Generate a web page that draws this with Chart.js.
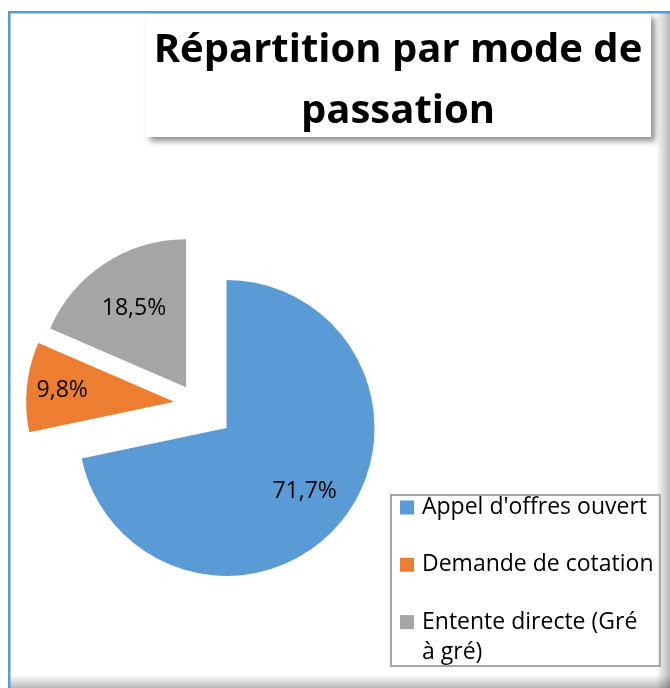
<!DOCTYPE html>
<html lang="fr">
<head>
<meta charset="utf-8">
<title>Répartition par mode de passation</title>
<script src="https://cdn.jsdelivr.net/npm/chart.js@4/dist/chart.umd.min.js"></script>
<style>
  html, body { margin: 0; padding: 0; background: #fff; }
  #wrap { position: relative; width: 670px; height: 688px; }
</style>
</head>
<body>
<div id="wrap"><canvas id="chart"></canvas></div>
<script>
const titleLines = ['Répartition par mode de', 'passation'];
const categories = ["Appel d'offres ouvert", 'Demande de cotation', 'Entente directe (Gré à gré)'];
const shares = [71.7, 9.8, 18.5];
const colors = ['#5b9bd5', '#ed7d31', '#a5a5a5'];
// how far each slice is pulled out of the pie (px)
const explode = [38, 23, 20];
// where the % label sits along the slice bisector (fraction of radius)
const labelPos = [0.68, 0.76, 0.64];

const FONT = '"Open Sans", "Noto Sans", sans-serif';

function pct(v) {
    return v.toFixed(1).replace('.', ',') + '%';
}

function wrapText(ctx, text, maxWidth) {
    const words = text.split(' ');
    const lines = [];
    let line = '';
    words.forEach(w => {
        const test = line ? line + ' ' + w : w;
        if (line && ctx.measureText(test).width > maxWidth) {
            lines.push(line);
            line = w;
        } else {
            line = test;
        }
    });
    if (line) lines.push(line);
    return lines;
}

// frame, title box and legend box
const decorPlugin = {
    id: 'decor',
    beforeDraw(chart) {
        const ctx = chart.ctx;
        ctx.save();

        // chart frame: blue top/left edge, soft shade on right/bottom
        let g = ctx.createLinearGradient(656, 0, 670, 0);
        g.addColorStop(0, 'rgba(0,0,0,0)');
        g.addColorStop(1, 'rgba(0,0,0,0.28)');
        ctx.fillStyle = g;
        ctx.fillRect(656, 13, 14, 675);
        g = ctx.createLinearGradient(0, 675, 0, 688);
        g.addColorStop(0, 'rgba(0,0,0,0)');
        g.addColorStop(1, 'rgba(0,0,0,0.28)');
        ctx.fillStyle = g;
        ctx.fillRect(10, 675, 660, 13);
        ctx.fillStyle = '#5b9bd5';
        ctx.fillRect(8, 11, 662, 2.5);
        ctx.fillRect(8, 11, 2.5, 677);

        // title box
        ctx.shadowColor = 'rgba(0,0,0,0.45)';
        ctx.shadowBlur = 6;
        ctx.shadowOffsetX = 4;
        ctx.shadowOffsetY = 4;
        ctx.fillStyle = '#fff';
        ctx.fillRect(146, 14, 505, 123);
        ctx.shadowColor = 'transparent';

        ctx.fillStyle = '#000';
        ctx.font = 'bold 40px ' + FONT;
        ctx.textAlign = 'center';
        ctx.textBaseline = 'alphabetic';
        ctx.fillText(titleLines[0], 398, 62);
        ctx.fillText(titleLines[1], 398, 123);

        // legend box
        ctx.strokeStyle = '#a6a6a6';
        ctx.lineWidth = 2;
        ctx.strokeRect(391, 495, 269, 171);

        ctx.font = '23px ' + FONT;
        ctx.textAlign = 'left';
        let base = 514;
        categories.forEach((name, i) => {
            ctx.fillStyle = colors[i];
            ctx.fillRect(400, base - 13.5, 14, 14);
            ctx.fillStyle = '#000';
            const lines = wrapText(ctx, name, 232);
            lines.forEach((ln, j) => ctx.fillText(ln, 422, base + j * 30.5));
            base += 57.3 + (lines.length - 1) * 30.5;
        });
        ctx.restore();
    }
};

// pull slices out along their bisector, like an exploded pie
const explodePlugin = {
    id: 'explode',
    beforeDatasetDraw(chart, args) {
        const ctx = chart.ctx;
        args.meta.data.forEach((arc, i) => {
            const mid = (arc.startAngle + arc.endAngle) / 2;
            ctx.save();
            ctx.translate(Math.cos(mid) * explode[i], Math.sin(mid) * explode[i]);
            arc.draw(ctx);
            ctx.restore();
        });
        return false;
    },
    afterDatasetsDraw(chart) {
        const ctx = chart.ctx;
        const meta = chart.getDatasetMeta(0);
        ctx.save();
        ctx.font = '23px ' + FONT;
        ctx.fillStyle = '#000';
        ctx.textAlign = 'center';
        ctx.textBaseline = 'middle';
        meta.data.forEach((arc, i) => {
            const mid = (arc.startAngle + arc.endAngle) / 2;
            const d = explode[i] + arc.outerRadius * labelPos[i];
            ctx.fillText(pct(shares[i]), arc.x + Math.cos(mid) * d, arc.y + Math.sin(mid) * d);
        });
        ctx.restore();
    }
};

new Chart(document.getElementById('chart'), {
    type: 'pie',
    data: {
        labels: categories,
        datasets: [{
            data: shares,
            backgroundColor: colors,
            borderWidth: 0
        }]
    },
    options: {
        responsive: true,
        maintainAspectRatio: false,
        animation: false,
        radius: 148,
        layout: {
            padding: { left: 0, right: 276, top: 120, bottom: 0 }
        },
        plugins: {
            legend: { display: false },
            title: { display: false },
            tooltip: { enabled: false }
        }
    },
    plugins: [decorPlugin, explodePlugin]
});
</script>
</body>
</html>
